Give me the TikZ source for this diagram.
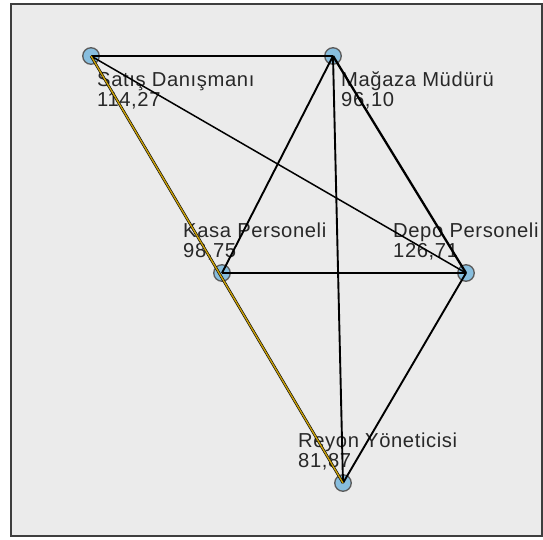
\documentclass[tikz,border=0pt]{standalone}
\usepackage{fontspec}
\setmainfont{Liberation Sans}
\newfontfamily\lblfont[LetterSpace=3]{Liberation Sans}
\usepackage{xcolor}
\usetikzlibrary{positioning,backgrounds}
\definecolor{gvpanel}{RGB}{235,235,235}
\definecolor{gvframe}{RGB}{62,62,62}
\definecolor{gvnode}{RGB}{136,190,222}
\definecolor{gvgold}{RGB}{201,160,10}
\definecolor{gvtext}{RGB}{40,40,40}

\begin{document}
\begin{tikzpicture}[
  x=1pt, y=-1pt,
  font=\lblfont\fontsize{20.2}{19.5}\selectfont,
  vertex/.style={circle, draw=gvframe!85, fill=gvnode, line width=1.3pt,
                 minimum size=16.5pt, inner sep=0pt},
  lbl/.style={anchor=base west, align=left, inner sep=0pt, text=gvtext},
  edge/.style={line width=1.9pt, black},
  thinedge/.style={line width=1.5pt, black}
]
\useasboundingbox (0,0) rectangle (543,539);
\fill[white] (0,0) rectangle (543,539);
\draw[fill=gvpanel, draw=gvframe, line width=2pt] (11,4) rectangle (542,536);

% the five roles
\node[vertex] (satis)  at (91,56)  {};
\node[vertex] (magaza) at (333,56) {};
\node[vertex] (kasa)   at (222,273) {};
\node[vertex] (depo)   at (466,273) {};
\node[vertex] (reyon)  at (343,483) {};

% labels (anchored at the last line)
\node[lbl] (satislbl)  at (97,106)  {Satış Danışmanı\\114,27};
\node[lbl] (magazalbl) at (341,106) {Mağaza Müdürü\\96,10};
\node[lbl] (kasalbl)   at (183,257) {Kasa Personeli\\98,75};
\node[lbl] (depolbl)   at (393,257) {Depo Personeli\\126,71};
\node[lbl] (reyonlbl)  at (298,467) {Reyon Yöneticisi\\81,87};

% links
\draw[edge] (satis.center) -- (magaza.center);
\draw[thinedge] (satis.center) -- (depo.center);
\draw[edge] (magaza.center) -- (kasa.center);
\draw[edge, line width=2.3pt] (magaza.center) -- (depo.center);
\draw[edge] (magaza.center) -- (reyon.center);
\draw[edge, line width=2.3pt] (kasa.center) -- (depo.center);
\draw[edge] (depo.center) -- (reyon.center);
\draw[black, line width=2.6pt] (satis.center) -- (reyon.center);
\draw[gvgold, line width=1.4pt] (satis.center) -- (reyon.center);

\end{tikzpicture}
\end{document}
